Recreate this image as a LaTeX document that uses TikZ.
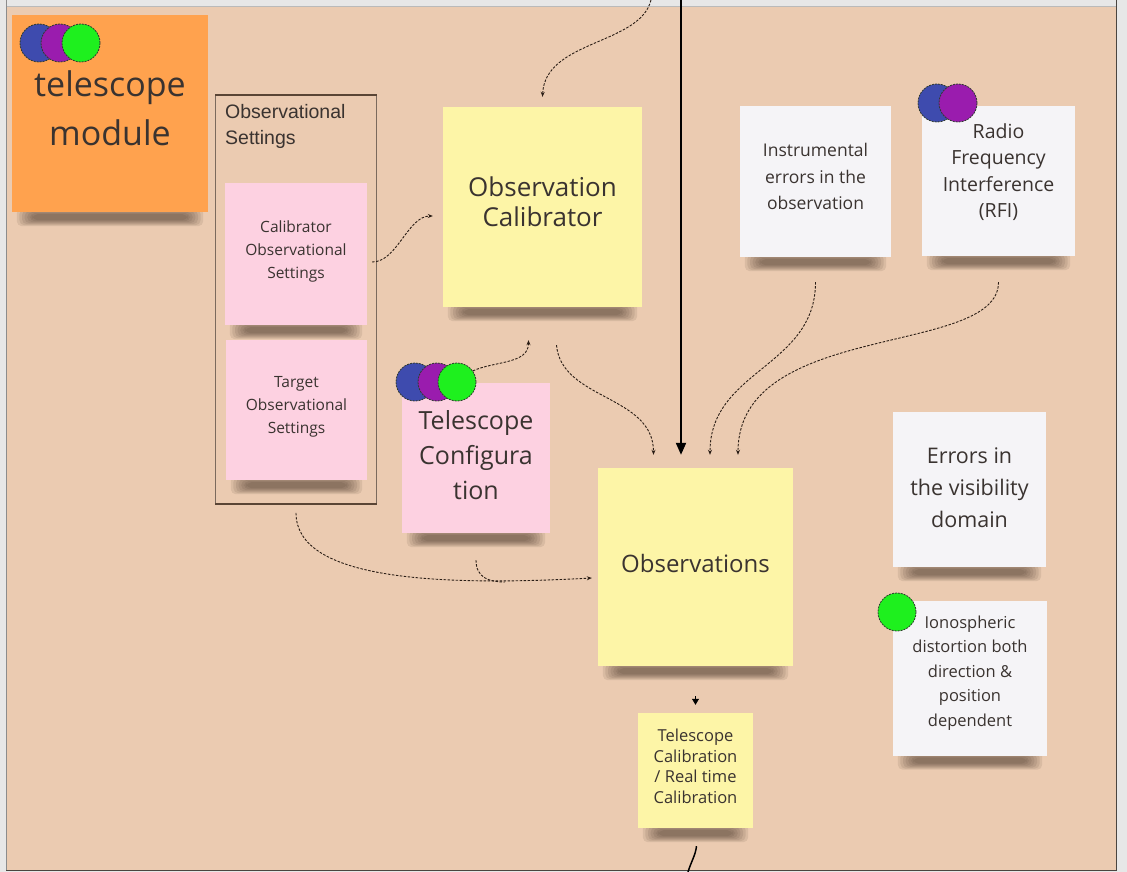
\documentclass[tikz,border=0pt]{standalone}
\usepackage{fontspec}
\setmainfont{Open Sans}
\newfontfamily\arialf{Liberation Sans}
\usetikzlibrary{arrows.meta,calc}
\definecolor{peach}{HTML}{EBCBB1}
\definecolor{outergrey}{HTML}{E7E7E7}
\definecolor{bordergrey}{HTML}{8C8C8C}
\definecolor{borderdark}{HTML}{4A4540}
\definecolor{orangenote}{HTML}{FFA24E}
\definecolor{yellownote}{HTML}{FDF5A7}
\definecolor{pinknote}{HTML}{FDD1E1}
\definecolor{whitenote}{HTML}{F5F4F7}
\definecolor{framecol}{HTML}{5A4535}
\definecolor{textdark}{HTML}{3A3330}
\definecolor{conncol}{HTML}{2A1D15}
\definecolor{dotblue}{HTML}{3E4BAE}
\definecolor{dotpurple}{HTML}{9A1CAE}
\definecolor{dotgreen}{HTML}{1EF01E}
\definecolor{dotborder}{HTML}{2F3A2F}
\definecolor{shadowcol}{HTML}{2A1A10}
\pgfdeclarelayer{backlayer}
\pgfdeclarelayer{shadowlayer}
\pgfsetlayers{backlayer,shadowlayer,main}
\newcommand\noteshadow[1]{%
  \begin{pgfonlayer}{shadowlayer}
  \foreach \k in {0,...,6}{%
    \fill[shadowcol, opacity=0.09, rounded corners=5pt]
      ($(#1.south west)+(5+2.6*\k,-4+\k)$) rectangle ($(#1.south east)+(-5-2.6*\k,14-\k)$);
  }
  \end{pgfonlayer}}
\begin{document}
\begin{tikzpicture}[x=1pt,y=-1pt,
  note/.style={rectangle, inner sep=0pt},
  txt/.style={inner sep=0pt, align=center, text=textdark},
  frame/.style={rectangle, draw=framecol!80, line width=0.9pt, inner sep=0pt},
  dot/.style={circle, inner sep=0pt, minimum size=38pt, draw=dotborder,
    line width=0.8pt, dash pattern=on 2pt off 1pt},
  conn/.style={draw=conncol, line width=0.9pt, dash pattern=on 2.5pt off 1.5pt,
    -{Stealth[length=5pt,width=4pt]}},
  connplain/.style={draw=conncol, line width=0.9pt, dash pattern=on 2.5pt off 1.5pt},
  solidarrow/.style={draw=black, line width=2pt, -{Triangle[length=12pt,width=10pt]}},
  tiparrow/.style={draw=black, line width=0.8pt, -{Triangle[length=6pt,width=7pt]}}
]
\useasboundingbox (0,0) rectangle (1127,872);
% background
\begin{pgfonlayer}{backlayer}
\fill[outergrey] (0,0) rectangle (1127,872);
\fill[peach] (7,7) rectangle (1116,870);
\draw[bordergrey, line width=1pt] (6.5,0) -- (6.5,870);
\draw[bordergrey!60, line width=0.8pt] (6.5,6.5) -- (1116,6.5);
\draw[borderdark, line width=1.5pt] (1116.5,0) -- (1116.5,870.5) -- (6,870.5);
\end{pgfonlayer}

% telescope module
\node[note, fill=orangenote, minimum width=196pt, minimum height=197pt] (tm) at (110,113.5) {};
\node[txt, font=\fontsize{34}{49}\selectfont, text=textdark] (tm-t) at ($(tm)+(0,-5)$) {telescope\\module};
\node[dot, fill=dotblue] (tm-c1) at (39,43) {};
\node[dot, fill=dotpurple] (tm-c2) at (60,43) {};
\node[dot, fill=dotgreen] (tm-c3) at (81,43) {};

% observational settings frame
\node[frame, minimum width=161pt, minimum height=408pt] (os) at (296,299.5) {};
\draw[framecol, line width=1.6pt] (os.north west) -- (os.north east);
\draw[framecol, line width=1.6pt] (os.south west) -- (os.south east);
\node[anchor=north west, inner sep=0pt, align=left, text=textdark,
      font=\arialf\fontsize{19.5}{26}\selectfont] (os-t) at (225,104) {Observational\\Settings};
\node[note, fill=pinknote, minimum width=142pt, minimum height=142pt] (cos) at (296,254) {};
\node[txt, font=\fontsize{15.5}{23}\selectfont] (cos-t) at ($(cos)+(0,-3)$) {Calibrator\\Observational\\Settings};
\node[note, fill=pinknote, minimum width=141pt, minimum height=140pt] (tos) at (296.5,410) {};
\node[txt, font=\fontsize{15.5}{23}\selectfont] (tos-t) at ($(tos)+(0,-3)$) {Target\\Observational\\Settings};

% observation calibrator
\node[note, fill=yellownote, minimum width=199pt, minimum height=200pt] (oc) at (542.5,207) {};
\node[txt, font=\fontsize{26}{30}\selectfont] (oc-t) at ($(oc)+(0,-5)$) {Observation\\Calibrator};

% telescope configuration
\node[note, fill=pinknote, minimum width=148pt, minimum height=150pt] (tcf) at (476,458) {};
\node[txt, font=\fontsize{25}{35}\selectfont] (tcf-t) at ($(tcf)+(0,-3)$) {Telescope\\Configura\\tion};
\node[dot, fill=dotblue] (tcf-c1) at (415,382) {};
\node[dot, fill=dotpurple] (tcf-c2) at (437,382) {};
\node[dot, fill=dotgreen] (tcf-c3) at (457,382) {};

% observations
\node[note, fill=yellownote, minimum width=195pt, minimum height=198pt] (obs) at (695.5,567) {};
\node[txt, font=\fontsize{24}{29}\selectfont] (obs-t) at ($(obs)+(0,-4)$) {Observations};

% telescope calibration
\node[note, fill=yellownote, minimum width=115pt, minimum height=115pt] (tc) at (695.5,770.5) {};
\node[txt, font=\fontsize{16.5}{20.5}\selectfont] (tc-t) at ($(tc)+(0,-4)$) {Telescope\\Calibration\\/ Real time\\Calibration};

% instrumental errors
\node[note, fill=whitenote, minimum width=151pt, minimum height=151pt] (ie) at (815.5,181.5) {};
\node[txt, font=\fontsize{17.5}{26.5}\selectfont] (ie-t) at ($(ie)+(0,-5)$) {Instrumental\\errors in the\\observation};

% RFI
\node[note, fill=whitenote, minimum width=153pt, minimum height=150pt] (rfi) at (998.5,181) {};
\node[txt, font=\fontsize{19.5}{26.5}\selectfont] (rfi-t) at ($(rfi)+(0,-9)$) {Radio\\Frequency\\Interference\\(RFI)};
\node[dot, fill=dotblue] (rfi-c1) at (937,103) {};
\node[dot, fill=dotpurple] (rfi-c2) at (958,103) {};

% errors in visibility domain
\node[note, fill=whitenote, minimum width=153pt, minimum height=155pt] (ev) at (969.5,489.5) {};
\node[txt, font=\fontsize{21.5}{32}\selectfont] (ev-t) at ($(ev)+(0,-2)$) {Errors in\\the visibility\\domain};

% ionospheric
\node[note, fill=whitenote, minimum width=154pt, minimum height=155pt] (io) at (970,678) {};
\node[txt, font=\fontsize{16.5}{24.5}\selectfont] (io-t) at ($(io)+(0,-5)$) {Ionospheric\\distortion both\\direction \&\\position\\dependent};
\node[dot, fill=dotgreen] (io-c1) at (897,612) {};

% shadows under the notes
\noteshadow{tm}
\noteshadow{cos}
\noteshadow{tos}
\noteshadow{oc}
\noteshadow{tcf}
\noteshadow{obs}
\noteshadow{tc}
\noteshadow{ie}
\noteshadow{rfi}
\noteshadow{ev}
\noteshadow{io}

% connectors
\coordinate (in1) at (651,0);
\coordinate (in2) at (681,0);
\coordinate (out1) at (688,872);
\coordinate (merge) at (505,582);

\draw[conn] (in1) .. controls (640,45) and (545,40) .. ([yshift=10pt]oc.north);
\draw[solidarrow, shorten >=13pt] (in2) -- (in2 |- obs.north);
\draw[conn] ([xshift=5pt,yshift=-8pt]cos.east) .. controls +(25,0) and +(-25,0) .. ([xshift=-10pt,yshift=-9pt]oc.west);
\draw[conn] (tcf-c3.35) .. controls +(22,-10) and +(0,24) .. ([xshift=-14pt,yshift=-33pt]oc.south);
\draw[conn] ([xshift=14pt,yshift=-38pt]oc.south) .. controls +(5,55) and +(0,-60) .. ([xshift=-42pt,yshift=13pt]obs.north);
\draw[conn] ([yshift=-25pt]ie.south) .. controls +(0,85) and +(0,-85) .. ([xshift=14.5pt,yshift=13pt]obs.north);
\draw[conn] ([yshift=-26pt]rfi.south) .. controls +(0,75) and +(0,-135) .. ([xshift=42.5pt,yshift=13pt]obs.north);
\draw[conn] ([yshift=-9pt]os.south) .. controls +(0,68) and +(-150,8) .. ([xshift=-6pt,yshift=-11pt]obs.west);
\draw[connplain] ([yshift=-27pt]tcf.south) .. controls +(0,18) and +(-15,0) .. (merge);
\draw[tiparrow, shorten <=30pt, shorten >=8pt] (obs.south) -- (tc.north);
\draw[black, line width=1.5pt] ([xshift=1pt,yshift=-18pt]tc.south) .. controls +(-1,9) and +(3,-10) .. (out1);
\end{tikzpicture}
\end{document}
